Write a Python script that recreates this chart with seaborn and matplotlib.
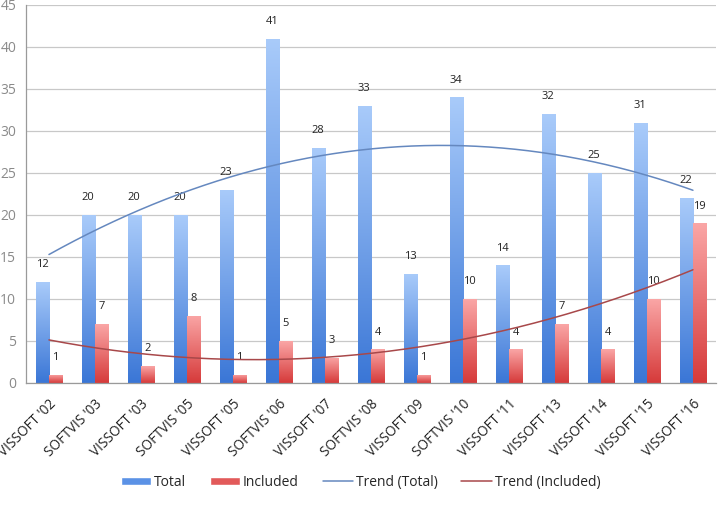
import numpy as np
import pandas as pd
import matplotlib
matplotlib.use("Agg")
import matplotlib.pyplot as plt
from matplotlib.colors import LinearSegmentedColormap
from matplotlib.patches import Patch
from matplotlib.lines import Line2D
import seaborn as sns

# data
venues = ["VISSOFT '02", "SOFTVIS '03", "VISSOFT '03", "SOFTVIS '05", "VISSOFT '05",
          "SOFTVIS '06", "VISSOFT '07", "SOFTVIS '08", "VISSOFT '09", "SOFTVIS '10",
          "VISSOFT '11", "VISSOFT '13", "VISSOFT '14", "VISSOFT '15", "VISSOFT '16"]
total = [12, 20, 20, 20, 23, 41, 28, 33, 13, 34, 14, 32, 25, 31, 22]
included = [1, 7, 2, 8, 1, 5, 3, 4, 1, 10, 4, 7, 4, 10, 19]

df = pd.DataFrame({"venue": venues * 2,
                   "count": total + included,
                   "series": ["Total"] * len(venues) + ["Included"] * len(venues)})

sns.set_style("white")
plt.rcParams['font.family'] = ['Open Sans', 'DejaVu Sans']

fig = plt.figure(figsize=(7.21, 5.05), dpi=100)
ax = fig.add_axes([0.036, 0.2416, 0.957, 0.7485])

sns.barplot(data=df, x="venue", y="count", hue="series", order=venues,
            hue_order=["Total", "Included"], palette=["#4a86e0", "#e05050"],
            width=0.58, gap=0, ax=ax, legend=False, errorbar=None)

# gradient fill for each bar (light at top, dark at bottom)
blue_cmap = LinearSegmentedColormap.from_list("b", ["#3a76d6", "#a9cbfa"])
red_cmap = LinearSegmentedColormap.from_list("r", ["#d63a3a", "#faa6a6"])
grad = np.linspace(0, 1, 256).reshape(-1, 1)
n = len(venues)
for i, patch in enumerate(ax.patches[:2 * n]):
    cmap = blue_cmap if i < n else red_cmap
    x0 = patch.get_x()
    w, h = patch.get_width(), patch.get_height()
    patch.set_facecolor("none")
    patch.set_edgecolor("none")
    im = ax.imshow(grad, cmap=cmap, origin="lower", aspect="auto",
                   extent=[x0, x0 + w, 0, h], zorder=2)
    im.set_clip_path(patch)

# value labels
for i in range(n):
    ax.text(i - 0.145, total[i] + 1.4, str(total[i]), ha="center", va="bottom",
            fontsize=8, color="#222222")
    ax.text(i + 0.145, included[i] + 1.4, str(included[i]), ha="center", va="bottom",
            fontsize=8, color="#222222")

# polynomial trend lines (order 2)
xs = np.arange(n)
xx = np.linspace(0, n - 1, 200)
ax.plot(xx, np.polyval(np.polyfit(xs, total, 2), xx), color="#6588bf", lw=1.1, zorder=3)
ax.plot(xx, np.polyval(np.polyfit(xs, included, 2), xx), color="#a8484a", lw=1.1, zorder=3)

ax.set_xlim(-0.5, n - 0.5)
ax.set_ylim(0, 45)
ax.set_yticks(range(0, 46, 5))
ax.yaxis.grid(True, color="#c8c8c8", lw=0.9)
ax.set_axisbelow(True)
ax.set_xlabel("")
ax.set_ylabel("")

for s in ["top", "right"]:
    ax.spines[s].set_visible(False)
for s in ["left", "bottom"]:
    ax.spines[s].set_color("#9a9a9a")
    ax.spines[s].set_linewidth(0.9)

ax.tick_params(axis="y", length=4, color="#9a9a9a", labelcolor="#8a8a8a", labelsize=10, pad=3)
ax.set_xticks(xs)
ax.set_xticklabels(venues, rotation=45, ha="right", rotation_mode="anchor", fontsize=9.8,
                   color="#222222")
ax.tick_params(axis="x", length=0, pad=10)
ax.set_xticks(np.arange(-0.5, n, 1), minor=True)
ax.tick_params(axis="x", which="minor", length=5, color="#9a9a9a")

handles = [Patch(facecolor="#5b92e6", label="Total"),
           Patch(facecolor="#e25a5a", label="Included"),
           Line2D([], [], color="#6588bf", lw=1.1, label="Trend (Total)"),
           Line2D([], [], color="#a8484a", lw=1.1, label="Trend (Included)")]
fig.legend(handles=handles, loc="center", bbox_to_anchor=(0.5, 0.045), ncol=4,
           frameon=False, fontsize=10, handlelength=2.2, handleheight=0.5,
           handletextpad=0.2, columnspacing=1.7)

fig.savefig("out.png", dpi=100)
